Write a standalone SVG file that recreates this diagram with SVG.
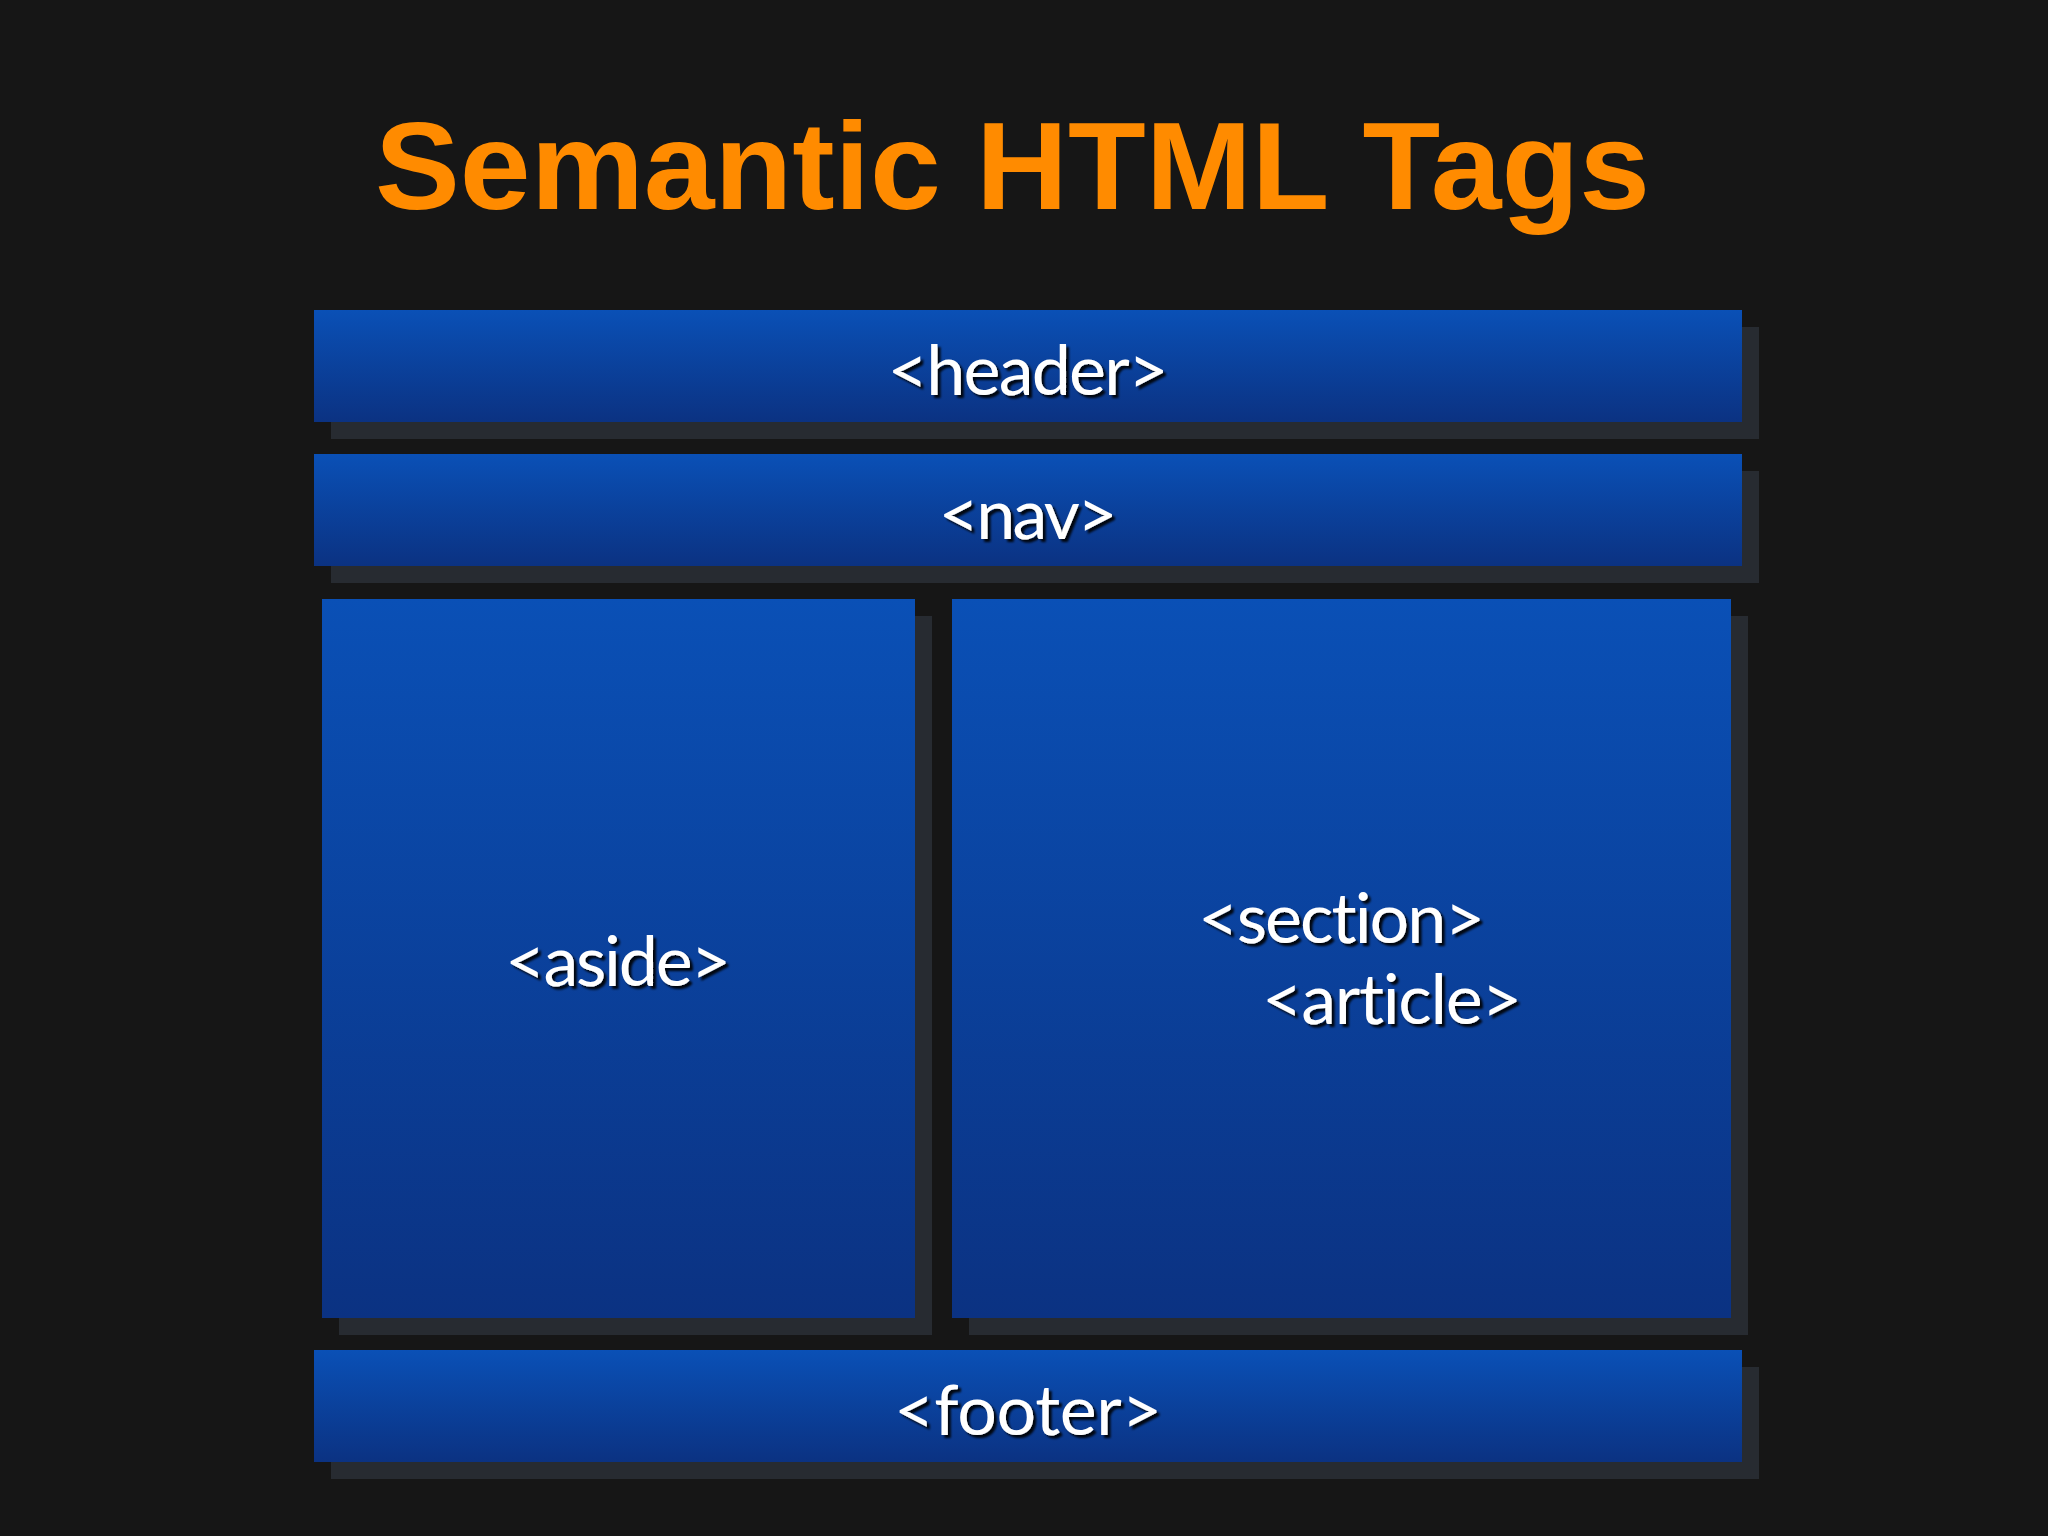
<svg xmlns="http://www.w3.org/2000/svg" width="2048" height="1536" viewBox="0 0 2048 1536">
<defs>
<linearGradient id="blue" x1="0" y1="0" x2="0" y2="1">
<stop offset="0" stop-color="#0a50b6"/>
<stop offset="1" stop-color="#0b3282"/>
</linearGradient>
<filter id="ts" x="-10%" y="-30%" width="120%" height="160%">
<feDropShadow dx="3" dy="3" stdDeviation="1" flood-color="#000" flood-opacity="0.9"/>
</filter>
<style>
.shadow{fill:#272b31}
.box{fill:url(#blue)}
.lbl{font-family:"Lato","Open Sans","DejaVu Sans",sans-serif;font-size:70px;fill:#fff;filter:url(#ts);font-variant-ligatures:none}
.title{font-family:"Liberation Sans","Arial",sans-serif;font-weight:bold;font-size:124px;fill:#ff8b00}
</style>
</defs>
<rect width="2048" height="1536" fill="#161616"/>
<text class="title" x="375" y="209" textLength="1275" lengthAdjust="spacingAndGlyphs">Semantic HTML Tags</text>
<g id="header">
<rect class="shadow" x="331" y="327" width="1428" height="112"/>
<rect class="box" x="314" y="310" width="1428" height="112"/>
<text class="lbl" x="1028" y="395" text-anchor="middle" textLength="281">&lt;header&gt;</text>
</g>
<g id="nav">
<rect class="shadow" x="331" y="471" width="1428" height="112"/>
<rect class="box" x="314" y="454" width="1428" height="112"/>
<text class="lbl" x="1028" y="539" text-anchor="middle" textLength="179">&lt;nav&gt;</text>
</g>
<g id="aside">
<rect class="shadow" x="339" y="616" width="593" height="719"/>
<rect class="box" x="322" y="599" width="593" height="719"/>
<text class="lbl" x="618" y="986" text-anchor="middle" textLength="226">&lt;aside&gt;</text>
</g>
<g id="section">
<rect class="shadow" x="969" y="616" width="779" height="719"/>
<rect class="box" x="952" y="599" width="779" height="719"/>
<text class="lbl" x="1198" y="943" textLength="287">&lt;section&gt;</text>
<text class="lbl" x="1262" y="1024" textLength="260">&lt;article&gt;</text>
</g>
<g id="footer">
<rect class="shadow" x="331" y="1367" width="1428" height="112"/>
<rect class="box" x="314" y="1350" width="1428" height="112"/>
<text class="lbl" x="1028" y="1435" text-anchor="middle" textLength="268">&lt;footer&gt;</text>
</g>
<g id="connectors"/>
</svg>
